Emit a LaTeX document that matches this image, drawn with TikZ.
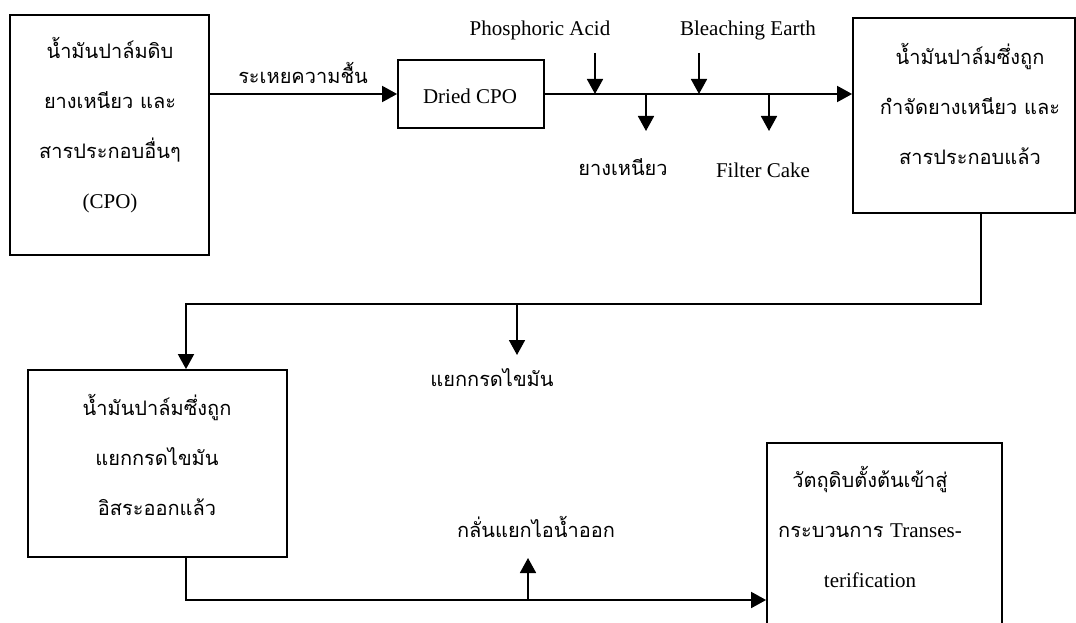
\documentclass[tikz,border=0pt]{standalone}
\usepackage{fontspec}
\setmainfont{Liberation Serif}
\newfontfamily\thai[Script=Thai]{Loma}
\usetikzlibrary{arrows.meta}
\tikzset{
  box/.style={draw, line width=1.8pt, fill=none, inner sep=0pt},
  txt/.style={inner sep=0pt, align=center, font=\fontsize{21}{50}\selectfont},
  thtxt/.style={inner sep=0pt, align=center, font=\thai\fontsize{20}{50}\selectfont},
  conn/.style={line width=1.8pt},
  arr/.style={line width=1.8pt, -{Triangle[length=15pt,width=16pt]}},
}
\begin{document}
\begin{tikzpicture}[x=1pt,y=-1pt]
\clip (0,0) rectangle (1076,623);
\fill[white] (0,0) rectangle (1076,623);
% boxes
\node[box, minimum width=199pt, minimum height=240pt] (b1) at (109.5,135) {};
\node[box, minimum width=146pt, minimum height=68pt] (b2) at (471,94) {};
\node[box, minimum width=222pt, minimum height=195pt] (b3) at (964,115.5) {};
\node[box, minimum width=259pt, minimum height=187pt] (b4) at (157.5,463.5) {};
\node[box, minimum width=235pt, minimum height=200pt] (b5) at (884.5,543) {};
% box texts
\node[thtxt] (t1) at (110,125) {น้ำมันปาล์มดิบ\\ยางเหนียว และ\\สารประกอบอื่นๆ\\{\rmfamily\fontsize{21}{50}\selectfont (CPO)}};
\node[txt] (t2) at (470,96) {Dried CPO};
\node[thtxt] (t3) at (970,104) {น้ำมันปาล์มซึ่งถูก\\กำจัดยางเหนียว และ\\สารประกอบแล้ว};
\node[thtxt] (t4) at (157,455) {น้ำมันปาล์มซึ่งถูก\\แยกกรดไขมัน\\อิสระออกแล้ว};
\node[thtxt] (t5) at (870,527) {วัตถุดิบตั้งต้นเข้าสู่\\กระบวนการ {\rmfamily\fontsize{21}{50}\selectfont Transes-}\\{\rmfamily\fontsize{21}{50}\selectfont terification}};
% labels
\node[thtxt] (l1) at (303,73) {ระเหยความชื้น};
\node[txt] (l2) at (540,30) {Phosphoric Acid};
\node[txt] (l3) at (748,30) {Bleaching Earth};
\node[thtxt] (l4) at (623,167) {ยางเหนียว};
\node[txt] (l5) at (763,170) {Filter Cake};
\node[thtxt] (l6) at (492,378) {แยกกรดไขมัน};
\node[thtxt] (l7) at (536,527) {กลั่นแยกไอน้ำออก};
% coordinates
\coordinate (pa) at (595,53);
\coordinate (be) at (699,53);
\coordinate (g1) at (646,94);
\coordinate (g2) at (769,94);
\coordinate (g1e) at (646,131);
\coordinate (g2e) at (769,131);
\coordinate (d1) at (981,213);
\coordinate (d2) at (981,304);
\coordinate (d3) at (186,304);
\coordinate (m1) at (517,304);
\coordinate (m2) at (517,355);
\coordinate (e1) at (186,557);
\coordinate (e2) at (186,600);
\coordinate (u1) at (528,600);
\coordinate (u2) at (528,558);
% connectors
\draw[arr] (b1.east |- b2.west) -- (b2.west);
\draw[arr] (b2.east) -- (b2.east -| b3.west);
\draw[arr] (pa) -- (pa |- b2.east);
\draw[arr] (be) -- (be |- b2.east);
\draw[arr] (g1) -- (g1e);
\draw[arr] (g2) -- (g2e);
\draw[arr] (d1) -- (d2) -- (d3) -- (d3 |- b4.north);
\draw[arr] (m1) -- (m2);
\draw[arr] (e1) -- (e2) -- (e2 -| b5.west);
\draw[arr] (u1) -- (u2);
\end{tikzpicture}
\end{document}
